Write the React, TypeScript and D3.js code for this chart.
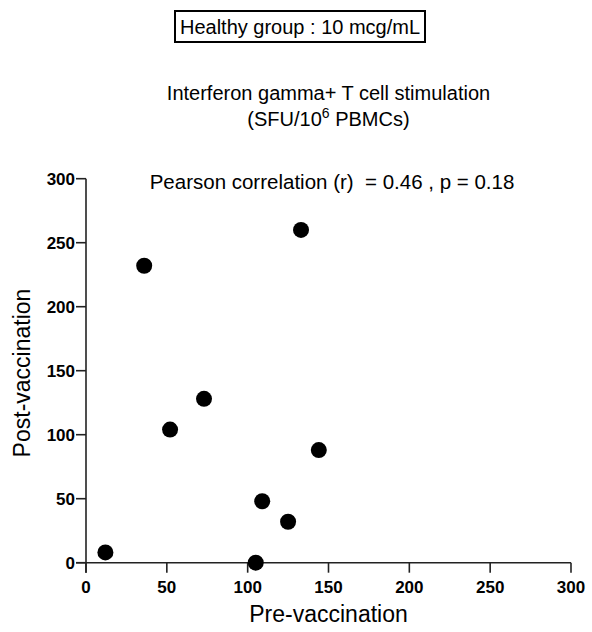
import React from "react";
import * as d3 from "d3";

const preVaccination = [12, 36, 52, 73, 105, 109, 125, 133, 144];
const postVaccination = [8, 232, 104, 128, 0, 48, 32, 260, 88];
const xTicks = [0, 50, 100, 150, 200, 250, 300];
const yTicks = [0, 50, 100, 150, 200, 250, 300];
const boxLabel = "Healthy group : 10 mcg/mL";
const titleLine1 = "Interferon gamma+ T cell stimulation";
const statsLabel = "Pearson correlation (r)  = 0.46 , p = 0.18";
const xLabel = "Pre-vaccination";
const yLabel = "Post-vaccination";

const W = 592;
const H = 632;
const FONT = "'Liberation Sans', Arial, Helvetica, sans-serif";

export default function App() {
  const x = d3.scaleLinear().domain([0, 300]).range([86, 571]);
  const y = d3.scaleLinear().domain([0, 300]).range([562.7, 178.7]);
  const tick = 10;
  const cx = (x(0) + x(300)) / 2;
  return (
    <svg
      width={W}
      height={H}
      style={{ position: "absolute", left: 0, top: 0, background: "#fff" }}
      fontFamily={FONT}
    >
      <rect x={0} y={0} width={W} height={H} fill="#fff" />
      {/* box title */}
      <rect x={175} y={11} width={250} height={31} fill="none" stroke="#000" strokeWidth={2} />
      <text x={300} y={33.5} textAnchor="middle" fontSize={20}>
        {boxLabel}
      </text>
      {/* main title */}
      <text x={cx} y={100} textAnchor="middle" fontSize={20}>
        {titleLine1}
      </text>
      <text x={cx} y={126} textAnchor="middle" fontSize={20}>
        (SFU/10<tspan dy={-8} fontSize={14}>6</tspan>
        <tspan dy={8}> PBMCs)</tspan>
      </text>
      <text x={332} y={189} textAnchor="middle" fontSize={20.5} style={{ whiteSpace: "pre" }}>
        {statsLabel}
      </text>
      {/* axes */}
      <g stroke="#222" strokeWidth={1.6}>
        <line x1={x(0) - tick} x2={x(300)} y1={y(0)} y2={y(0)} />
        <line x1={x(0)} x2={x(0)} y1={y(300)} y2={y(0) + tick} />
        {xTicks.map((t) => (
          <line key={"xt" + t} x1={x(t)} x2={x(t)} y1={y(0)} y2={y(0) + tick} />
        ))}
        {yTicks.map((t) => (
          <line key={"yt" + t} x1={x(0) - tick} x2={x(0)} y1={y(t)} y2={y(t)} />
        ))}
      </g>
      {xTicks.map((t) => (
        <text key={"xl" + t} x={x(t)} y={y(0) + 30} textAnchor="middle" fontSize={17} fontWeight="bold">
          {t}
        </text>
      ))}
      {yTicks.map((t) => (
        <text key={"yl" + t} x={x(0) - 11} y={y(t) + 6} textAnchor="end" fontSize={17} fontWeight="bold">
          {t}
        </text>
      ))}
      <text x={cx} y={622} textAnchor="middle" fontSize={23}>
        {xLabel}
      </text>
      <text transform={`translate(30,373) rotate(-90)`} textAnchor="middle" fontSize={23}>
        {yLabel}
      </text>
      {preVaccination.map((v, i) => (
        <circle key={i} cx={x(v)} cy={y(postVaccination[i])} r={8} fill="#000" />
      ))}
    </svg>
  );
}
